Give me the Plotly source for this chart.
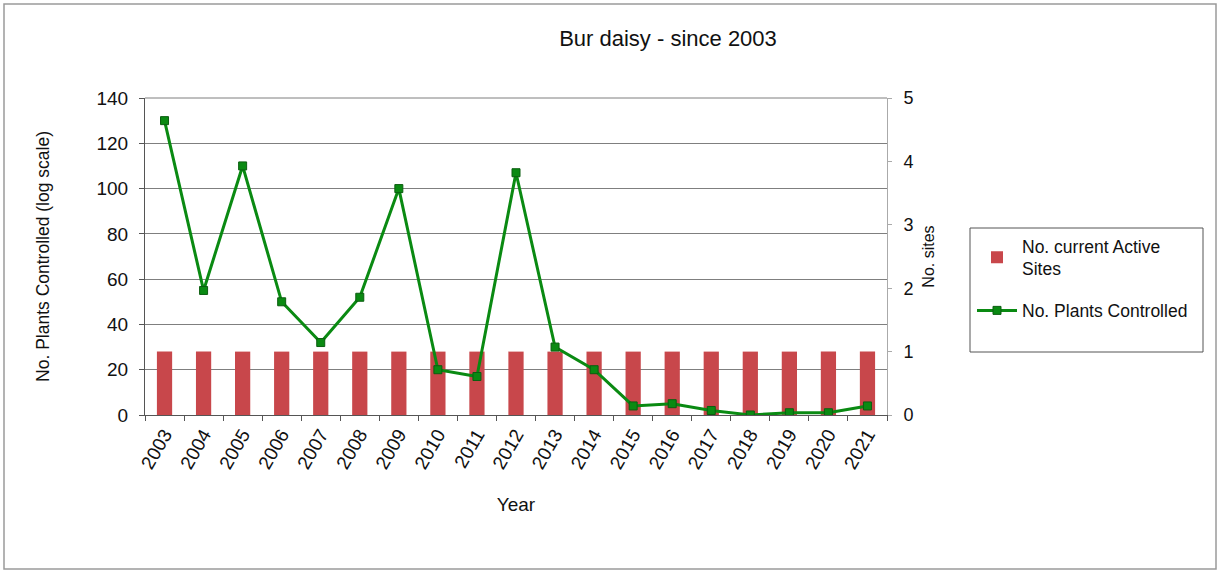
import plotly.graph_objects as go

years = [str(y) for y in range(2003, 2022)]
active_sites = [1] * 19
plants_controlled = [130, 55, 110, 50, 32, 52, 100, 20, 17, 107, 30, 20, 4, 5, 2, 0, 1, 1, 4]

FONT = "Liberation Sans, Arial, sans-serif"
GREEN = "#0A8A12"
RED = "#C8474B"
GRID = "#7F7F7F"

L, R, T, B = 145, 887, 98, 415
PW, PH = R - L, B - T

def px(x):
    return (x - L) / PW

def py(y):
    return (B - y) / PH

fig = go.Figure()
fig.add_trace(go.Bar(
    x=years, y=active_sites, name="No. current Active<br>Sites",
    marker=dict(color=RED, line=dict(width=0)), yaxis="y", legendgroup="a",
))
fig.add_trace(go.Scatter(
    x=years, y=plants_controlled, name="No. Plants Controlled",
    mode="lines+markers", yaxis="y2", legendgroup="b",
    line=dict(color=GREEN, width=3),
    marker=dict(symbol="square", size=8, color=GREEN, line=dict(color="#0B5E10", width=1)),
))

fig.update_layout(
    width=1219, height=572,
    margin=dict(l=L, r=1219 - R, t=T, b=572 - B),
    paper_bgcolor="white", plot_bgcolor="white",
    font=dict(family=FONT, size=18, color="#111111"),
    title=dict(text="Bur daisy - since 2003", x=668/1219, xanchor="center",
               y=1-38/572, yanchor="middle", font=dict(size=22)),
    bargap=0.61,
    showlegend=True,
    legend=dict(x=px(972), y=py(228), xanchor="left", yanchor="top",
                borderwidth=0, bgcolor="rgba(0,0,0,0)",
                font=dict(size=17.5), tracegroupgap=16, itemwidth=40,
                traceorder="grouped"),
    xaxis=dict(
        type="category", range=[-0.5, 18.5], tickangle=-60, ticks="outside",
        tickson="boundaries", ticklen=5, tickcolor="#555555", showline=True,
        linecolor="#555555", linewidth=1,
        title=dict(text="Year", standoff=26, font=dict(size=19)),
        tickfont=dict(size=19),
    ),
    yaxis=dict(
        side="right", range=[0, 5], dtick=1, showgrid=False, ticks="outside",
        ticklen=4, tickcolor="#AAAAAA", showline=True, linecolor="#AAAAAA",
        ticklabelstandoff=8, tickfont=dict(size=18),
        title=dict(text="No. sites", standoff=10, font=dict(size=16)), zeroline=False,
    ),
    yaxis2=dict(
        overlaying="y", side="left", range=[0, 140], dtick=20,
        showgrid=True, gridcolor=GRID, gridwidth=1, ticks="outside",
        ticklen=5, tickcolor="#555555", showline=True, linecolor="#555555",
        ticklabelstandoff=7, tickfont=dict(size=19),
        title=dict(text="No. Plants Controlled (log scale)", standoff=42,
                   font=dict(size=17.5)),
        zeroline=False,
    ),
    shapes=[
        dict(type="rect", xref="paper", yref="paper",
             x0=px(4), x1=px(1216), y0=py(569), y1=py(4),
             line=dict(color="#9A9A9A", width=1.5), layer="below"),
        dict(type="rect", xref="paper", yref="paper",
             x0=px(970), x1=px(1203), y0=py(352), y1=py(228),
             line=dict(color="#555555", width=1), fillcolor="white", layer="below"),
        dict(type="line", xref="paper", yref="paper", x0=0, x1=1, y0=1, y1=1,
             line=dict(color=GRID, width=1)),
    ],
)

fig.write_html("out.html")
